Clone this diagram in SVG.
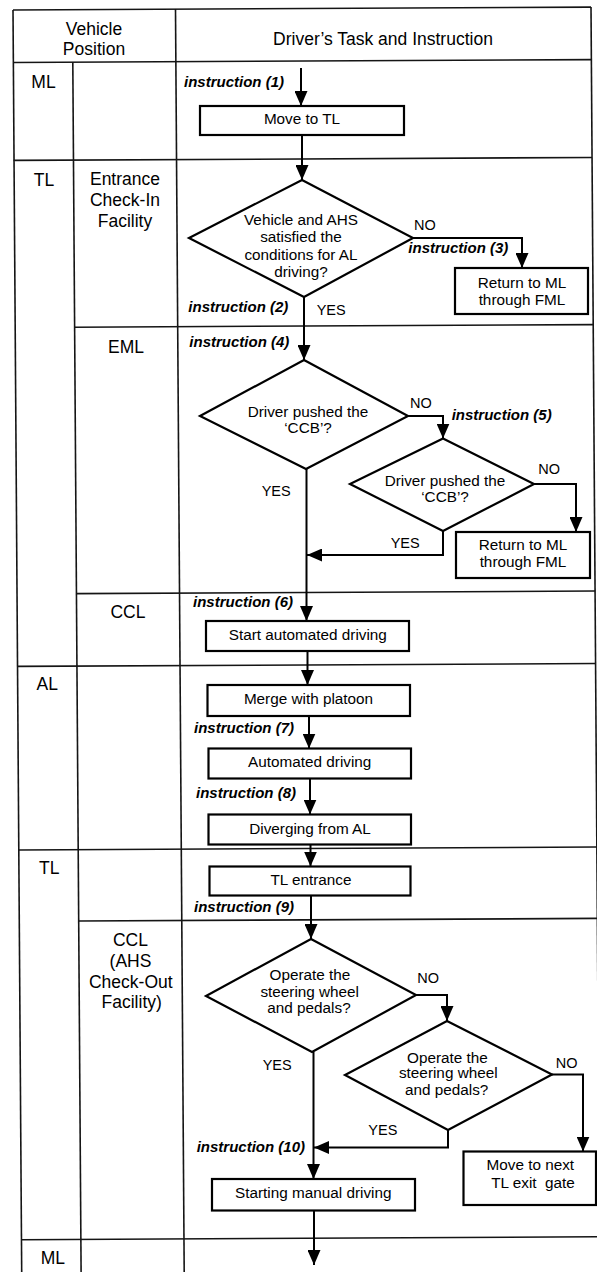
<svg xmlns="http://www.w3.org/2000/svg" width="597" height="1272" viewBox="0 0 597 1272">
<style>
.tb{stroke:#151515;stroke-width:1.6;fill:none}
.bx{fill:#fff;stroke:#000;stroke-width:2.2}
.cn{fill:none;stroke:#000;stroke-width:2}
.lab{font-family:"Liberation Sans",Arial,sans-serif;font-size:17.5px;fill:#000;text-anchor:middle}
.t{font-family:"Liberation Sans",Arial,sans-serif;font-size:15.3px;fill:#000;text-anchor:middle}
.yn{font-family:"Liberation Sans",Arial,sans-serif;font-size:14.5px;fill:#000}
.ins{font-family:"Liberation Sans",Arial,sans-serif;font-size:15px;font-weight:bold;font-style:italic;fill:#000}
</style>
<defs>
<marker id="ah" markerUnits="userSpaceOnUse" markerWidth="15" markerHeight="13" refX="15" refY="6.5" orient="auto">
<path d="M0,0 L15,6.5 L0,13 Z" fill="#000"/>
</marker>
</defs>
<rect width="597" height="1272" fill="#fff"/>
<g id="table">
<line class="tb" x1="13" y1="10" x2="21.7" y2="1272"/>
<line class="tb" x1="72.8" y1="62" x2="81.1" y2="1272"/>
<line class="tb" x1="175.5" y1="9" x2="184.2" y2="1272"/>
<line class="tb" x1="591" y1="7" x2="599.8" y2="1272"/>
<line class="tb" x1="13" y1="10" x2="591" y2="7.1"/>
<line class="tb" x1="13" y1="62.5" x2="592" y2="59.6"/>
<line class="tb" x1="13.5" y1="160.4" x2="592" y2="157.5"/>
<line class="tb" x1="74" y1="327.2" x2="593.3" y2="324.6"/>
<line class="tb" x1="76.5" y1="593.6" x2="595.1" y2="591"/>
<line class="tb" x1="17.5" y1="666.4" x2="595.6" y2="663.5"/>
<line class="tb" x1="18.8" y1="850" x2="597" y2="847"/>
<line class="tb" x1="79" y1="921" x2="597" y2="918.4"/>
<line class="tb" x1="21.5" y1="1239.7" x2="597" y2="1236.8"/>
</g>
<g id="lanes">
<text class="lab" x="94" y="35">Vehicle</text>
<text class="lab" x="94" y="54.5">Position</text>
<text class="lab" x="383" y="45">Driver’s Task and Instruction</text>
<text class="lab" x="43.5" y="88">ML</text>
<text class="lab" x="44" y="186">TL</text>
<text class="lab" x="125" y="185">Entrance</text>
<text class="lab" x="125" y="206">Check-In</text>
<text class="lab" x="125" y="226.7">Facility</text>
<text class="lab" x="126" y="352.7">EML</text>
<text class="lab" x="128" y="618.3">CCL</text>
<text class="lab" x="47.2" y="690">AL</text>
<text class="lab" x="49.3" y="874.3">TL</text>
<text class="lab" x="130.5" y="946">CCL</text>
<text class="lab" x="130.5" y="967.3">(AHS</text>
<text class="lab" x="130.8" y="987.7">Check-Out</text>
<text class="lab" x="131.7" y="1007.7">Facility)</text>
<text class="lab" x="52.8" y="1264">ML</text>
</g>
<g id="connectors">
<path class="cn" marker-end="url(#ah)" d="M301,68 V106"/>
<path class="cn" marker-end="url(#ah)" d="M302,135 V180"/>
<path class="cn" marker-end="url(#ah)" d="M413,238 H522 V268"/>
<path class="cn" marker-end="url(#ah)" d="M304,297 V360"/>
<path class="cn" marker-end="url(#ah)" d="M408,416 H443 V438.5"/>
<path class="cn" marker-end="url(#ah)" d="M534,484 H576 V532"/>
<path class="cn" marker-end="url(#ah)" d="M443,531 V555 H307"/>
<path class="cn" marker-end="url(#ah)" d="M306.5,469 V621"/>
<path class="cn" marker-end="url(#ah)" d="M307.5,651 V685"/>
<path class="cn" marker-end="url(#ah)" d="M309,716 V748.5"/>
<path class="cn" marker-end="url(#ah)" d="M310,778.5 V814.5"/>
<path class="cn" marker-end="url(#ah)" d="M310.5,844.5 V866.5"/>
<path class="cn" marker-end="url(#ah)" d="M311,895.5 V939"/>
<path class="cn" marker-end="url(#ah)" d="M416,995 H447 V1021"/>
<path class="cn" marker-end="url(#ah)" d="M552,1074.5 H583 V1151.5"/>
<path class="cn" marker-end="url(#ah)" d="M448,1130 V1147.5 H314"/>
<path class="cn" marker-end="url(#ah)" d="M313.5,1052 V1179"/>
<path class="cn" marker-end="url(#ah)" d="M314,1210.5 V1265"/>
</g>
<g id="instructions">
<text class="ins" x="184" y="86.7">instruction (1)</text>
<text class="ins" x="188.3" y="311.7">instruction (2)</text>
<text class="ins" x="408.3" y="253.3">instruction (3)</text>
<text class="ins" x="189.3" y="346.7">instruction (4)</text>
<text class="ins" x="451.7" y="420">instruction (5)</text>
<text class="ins" x="193" y="607">instruction (6)</text>
<text class="ins" x="194" y="733.3">instruction (7)</text>
<text class="ins" x="196" y="798.3">instruction (8)</text>
<text class="ins" x="194" y="911.7">instruction (9)</text>
<text class="ins" x="196.7" y="1151.7">instruction (10)</text>
</g>
<g id="branch-labels">
<text class="yn" x="414" y="230">NO</text>
<text class="yn" x="316.7" y="315">YES</text>
<text class="yn" x="410" y="408.3">NO</text>
<text class="yn" x="261.7" y="496">YES</text>
<text class="yn" x="538.3" y="474.3">NO</text>
<text class="yn" x="390.7" y="548.3">YES</text>
<text class="yn" x="417.3" y="983.3">NO</text>
<text class="yn" x="262.7" y="1070">YES</text>
<text class="yn" x="555.7" y="1067.5">NO</text>
<text class="yn" x="368.3" y="1135">YES</text>
</g>
<g id="move-to-tl">
<rect class="bx" x="200" y="106" width="204" height="29"/>
<text class="t" x="302" y="124">Move to TL</text>
</g>
<g id="check-conditions">
<polygon class="bx" points="302,180 413,238 304,297 189,238"/>
<text class="t" x="301" y="225">Vehicle and AHS</text>
<text class="t" x="301" y="242">satisfied the</text>
<text class="t" x="301" y="259.5">conditions for AL</text>
<text class="t" x="301" y="276.5">driving?</text>
</g>
<g id="return-ml-1">
<rect class="bx" x="455" y="268" width="133" height="46"/>
<text class="t" x="522" y="288.3">Return to ML</text>
<text class="t" x="522" y="305">through FML</text>
</g>
<g id="ccb-1">
<polygon class="bx" points="304,360 408,416 306,469 200,416"/>
<text class="t" x="308" y="417.3">Driver pushed the</text>
<text class="t" x="308" y="433.3">‘CCB’?</text>
</g>
<g id="ccb-2">
<polygon class="bx" points="443,438.5 534,484 443,531 350,484"/>
<text class="t" x="445" y="485.5">Driver pushed the</text>
<text class="t" x="445" y="501.7">‘CCB’?</text>
</g>
<g id="return-ml-2">
<rect class="bx" x="456" y="532" width="134" height="46"/>
<text class="t" x="523" y="550">Return to ML</text>
<text class="t" x="523" y="566.7">through FML</text>
</g>
<g id="start-automated">
<rect class="bx" x="206" y="621" width="203" height="30"/>
<text class="t" x="307.8" y="640">Start automated driving</text>
</g>
<g id="merge-platoon">
<rect class="bx" x="207.5" y="685" width="202.5" height="31"/>
<text class="t" x="308.5" y="704">Merge with platoon</text>
</g>
<g id="automated-driving">
<rect class="bx" x="208.5" y="748.5" width="202.5" height="30"/>
<text class="t" x="309.7" y="767.3">Automated driving</text>
</g>
<g id="diverging">
<rect class="bx" x="208.5" y="814.5" width="202.5" height="30"/>
<text class="t" x="310" y="834">Diverging from AL</text>
</g>
<g id="tl-entrance">
<rect class="bx" x="209.5" y="866.5" width="201" height="29"/>
<text class="t" x="311" y="885">TL entrance</text>
</g>
<g id="operate-1">
<polygon class="bx" points="311,939 416,995 312,1052 206,996"/>
<text class="t" x="310" y="980">Operate the</text>
<text class="t" x="309.7" y="996.7">steering wheel</text>
<text class="t" x="309" y="1013.3">and pedals?</text>
</g>
<g id="operate-2">
<polygon class="bx" points="447,1021 552,1074.5 448,1130 345,1075"/>
<text class="t" x="447.5" y="1062.7">Operate the</text>
<text class="t" x="448.3" y="1078.3">steering wheel</text>
<text class="t" x="446.7" y="1095">and pedals?</text>
</g>
<g id="next-exit">
<rect class="bx" x="463.5" y="1151.5" width="132.5" height="53.5"/>
<text class="t" x="530.3" y="1170">Move to next</text>
<text class="t" x="533" y="1188.3" xml:space="preserve">TL exit  gate</text>
</g>
<g id="start-manual">
<rect class="bx" x="212" y="1179" width="203" height="31.5"/>
<text class="t" x="313.3" y="1198.3">Starting manual driving</text>
</g>
</svg>
